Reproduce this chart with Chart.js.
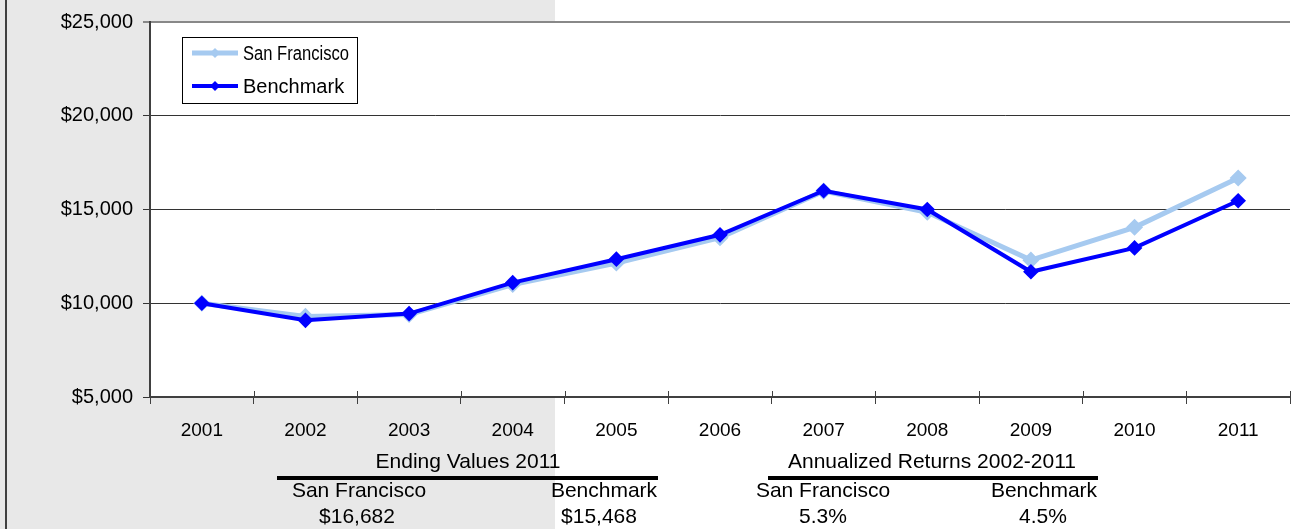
<!DOCTYPE html>
<html>
<head>
<meta charset="utf-8">
<script src="https://cdn.jsdelivr.net/npm/chart.js@4/dist/chart.umd.min.js"></script>
<style>
  body { margin: 0; background: #fff; }
  #wrap { position: relative; width: 1291px; height: 529px; font-family: "Liberation Sans", Arial, sans-serif; }
  #wrap canvas { position: absolute; left: 0; top: 0; }
  .t { position: absolute; transform: translate(-50%, -50%); white-space: nowrap; font-size: 21px; color: #000; }
  .rule { position: absolute; height: 4px; background: #000; }
</style>
</head>
<body>
<div id="wrap">
  <canvas id="grafik" width="1291" height="529"></canvas>
</div>
<script>
const years = ["2001", "2002", "2003", "2004", "2005", "2006", "2007", "2008", "2009", "2010", "2011"];
const sanFrancisco = [10000, 9300, 9400, 11000, 12150, 13500, 15980, 14850, 12300, 14050, 16682];
const benchmark = [10000, 9090, 9450, 11100, 12350, 13650, 16000, 15000, 11680, 12950, 15468];
const yTicks = [5000, 10000, 15000, 20000, 25000];

const seriesNames = ["San Francisco", "Benchmark"];
const endingTitle = "Ending Values 2011";
const endingValues = ["$16,682", "$15,468"];
const returnsTitle = "Annualized Returns 2002-2011";
const returnValues = ["5.3%", "4.5%"];

const warnaSF = "#a6caf0";
const warnaBM = "#0000ff";
const fontName = '"Liberation Sans", Arial, sans-serif';

// gray panel on the left + white plot area
const latar = {
  id: "latar",
  beforeDraw(chart) {
    const { ctx, chartArea: a } = chart;
    ctx.save();
    ctx.fillStyle = "#e8e8e8";
    ctx.fillRect(0, 0, 555, chart.height);
    ctx.fillStyle = "#fff";
    ctx.fillRect(a.left, a.top, a.right - a.left, a.bottom - a.top);
    ctx.fillStyle = "#404040";
    ctx.fillRect(5, 0, 2, chart.height);
    ctx.restore();
  },
  // small tick marks poking above the x axis at category boundaries
  afterDatasetsDraw(chart) {
    const { ctx } = chart;
    const sx = chart.scales.x;
    ctx.save();
    ctx.strokeStyle = "#404040";
    ctx.lineWidth = 1;
    for (let i = 1; i <= years.length; i++) {
      const x = Math.round(sx.getPixelForValue(i - 0.5)) + 0.5;
      ctx.beginPath();
      ctx.moveTo(x, sx.top - 6);
      ctx.lineTo(x, sx.top);
      ctx.stroke();
    }
    ctx.restore();
  }
};

// boxed legend inside the plot
const legenda = {
  id: "legenda",
  afterDraw(chart) {
    const ctx = chart.ctx;
    ctx.save();
    ctx.fillStyle = "#fff";
    ctx.fillRect(182, 37, 175, 66);
    ctx.strokeStyle = "#000";
    ctx.lineWidth = 1;
    ctx.strokeRect(182.5, 37.5, 175, 66);
    const rows = [
      { y: 53, color: warnaSF, w: 5 },
      { y: 86, color: warnaBM, w: 4 }
    ];
    rows.forEach((r, i) => {
      ctx.strokeStyle = r.color;
      ctx.lineWidth = r.w;
      ctx.beginPath();
      ctx.moveTo(192, r.y);
      ctx.lineTo(238, r.y);
      ctx.stroke();
      ctx.fillStyle = r.color;
      ctx.beginPath();
      ctx.moveTo(215, r.y - 5);
      ctx.lineTo(220, r.y);
      ctx.lineTo(215, r.y + 5);
      ctx.lineTo(210, r.y);
      ctx.closePath();
      ctx.fill();
      ctx.fillStyle = "#000";
      ctx.font = "20px " + fontName;
      ctx.textBaseline = "middle";
      ctx.fillText(seriesNames[i], 243, r.y + 1, 106);
    });
    ctx.restore();
  }
};

new Chart(document.getElementById("grafik"), {
  type: "line",
  data: {
    labels: years,
    datasets: [
      {
        label: seriesNames[0],
        data: sanFrancisco,
        borderColor: warnaSF,
        backgroundColor: warnaSF,
        borderWidth: 5,
        pointStyle: "rectRot",
        pointRadius: 5,
        tension: 0,
        order: 2
      },
      {
        label: seriesNames[1],
        data: benchmark,
        borderColor: warnaBM,
        backgroundColor: warnaBM,
        borderWidth: 4,
        pointStyle: "rectRot",
        pointRadius: 5,
        tension: 0,
        order: 1
      }
    ]
  },
  options: {
    responsive: false,
    animation: false,
    layout: { autoPadding: false, padding: { top: 19, right: 1, left: 0, bottom: 0 } },
    plugins: { legend: { display: false }, tooltip: { enabled: false } },
    scales: {
      x: {
        offset: true,
        grid: { offset: true, drawOnChartArea: false, drawTicks: true, tickLength: 7, color: "#404040" },
        border: { display: true, color: "#404040", width: 2 },
        ticks: { color: "#000", font: { family: fontName, size: 19 }, padding: 15, maxRotation: 0 },
        afterFit: s => { s.height = 132; s.paddingLeft = 0; s.paddingRight = 0; }
      },
      y: {
        min: 5000,
        max: 25000,
        afterBuildTicks: s => { s.ticks = yTicks.map(v => ({ value: v })); },
        grid: {
          color: ctx => (ctx.tick && ctx.tick.value === 25000 ? "#888" : "#333"),
          lineWidth: ctx => (ctx.tick && ctx.tick.value === 25000 ? 2 : 1),
          tickLength: 7
        },
        border: { display: true, color: "#404040", width: 2 },
        ticks: {
          color: "#000",
          font: { family: fontName, size: 20 },
          padding: 10,
          callback: v => "$" + v.toLocaleString("en-US")
        },
        afterFit: s => { s.width = 150; }
      }
    }
  },
  plugins: [latar, legenda]
});

// summary table under the chart
const wrap = document.getElementById("wrap");
function teks(str, x, y) {
  const d = document.createElement("div");
  d.className = "t";
  d.textContent = str;
  d.style.left = x + "px";
  d.style.top = y + "px";
  wrap.appendChild(d);
}
function garis(x1, x2, y) {
  const d = document.createElement("div");
  d.className = "rule";
  d.style.left = x1 + "px";
  d.style.width = (x2 - x1) + "px";
  d.style.top = y + "px";
  wrap.appendChild(d);
}

teks(endingTitle, 468, 461);
garis(277, 658, 476);
teks(seriesNames[0], 359, 490);
teks(seriesNames[1], 604, 490);
teks(endingValues[0], 357, 516);
teks(endingValues[1], 599, 516);

teks(returnsTitle, 932, 461);
garis(768, 1098, 476);
teks(seriesNames[0], 823, 490);
teks(seriesNames[1], 1044, 490);
teks(returnValues[0], 823, 516);
teks(returnValues[1], 1043, 516);
</script>
</body>
</html>
